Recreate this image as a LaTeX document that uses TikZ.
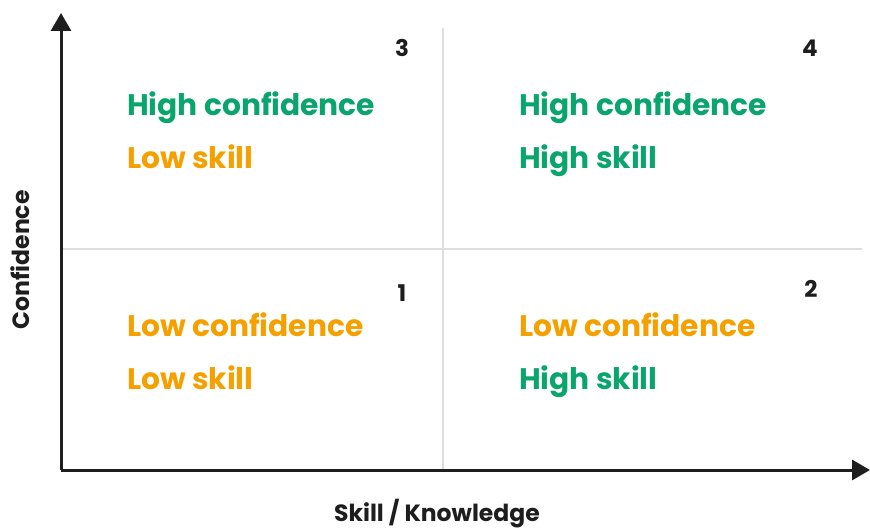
\documentclass[tikz,border=0pt]{standalone}
\usepackage{fontspec}
\setmainfont{Poppins}
\usetikzlibrary{arrows.meta}
\definecolor{hiGreen}{RGB}{10,165,108}
\definecolor{loOrange}{RGB}{244,160,0}
\definecolor{axisInk}{RGB}{30,30,30}
\definecolor{gridGray}{RGB}{222,222,222}
\tikzset{
  quadtext/.style={anchor=base west,font=\fontsize{29.7}{32}\selectfont\bfseries,inner sep=0pt},
  quadnum/.style={font=\fontsize{23}{26}\selectfont\bfseries,text=axisInk,inner sep=0pt},
  axislabel/.style={font=\fontsize{23.5}{26}\selectfont\bfseries,text=axisInk,inner sep=0pt}
}
\begin{document}
\begin{tikzpicture}[x=1pt,y=1pt,>={Triangle[width=20pt,length=18pt]},line join=round]
				\useasboundingbox (0,0) rectangle (870,528);
				\path (61,58)coordinate(O) (61,515)coordinate(Ytip) (870,58)coordinate(Xtip)
				      (443,58)coordinate(Vb) (443,500)coordinate(Vt)
				      (61,279)coordinate(Hl) (862,279)coordinate(Hr);
				% grid
				\draw[line width=2pt,gridGray] (Vb)--(Vt);
				\draw[line width=2pt,gridGray] (Hl)--(Hr);
				% axes
				\draw[->,line width=3pt,axisInk] (O)--(Ytip);
				\draw[->,line width=3pt,axisInk] (O)--(Xtip);
				% quadrant 3
				\node[quadtext,text=hiGreen] (q3a) at (127,412) {High confidence};
				\node[quadtext,text=loOrange] (q3b) at (127,359) {Low skill};
				\node[quadnum] (n3) at (402,480) {3};
				% quadrant 4
				\node[quadtext,text=hiGreen] (q4a) at (519,412) {High confidence};
				\node[quadtext,text=hiGreen] (q4b) at (519,359) {High skill};
				\node[quadnum] (n4) at (810,480) {4};
				% quadrant 1
				\node[quadtext,text=loOrange] (q1a) at (127,192) {Low confidence};
				\node[quadtext,text=loOrange] (q1b) at (127,139) {Low skill};
				\node[quadnum] (n1) at (402,235) {1};
				% quadrant 2
				\node[quadtext,text=loOrange] (q2a) at (519,192) {Low confidence};
				\node[quadtext,text=hiGreen] (q2b) at (519,139) {High skill};
				\node[quadnum] (n2) at (811,239) {2};
				% axis labels
				\node[axislabel,anchor=base] (xlab) at (437,7) {Skill / Knowledge};
				\node[axislabel,rotate=90] (ylab) at (20,268) {Confidence};
			\end{tikzpicture}
\end{document}
